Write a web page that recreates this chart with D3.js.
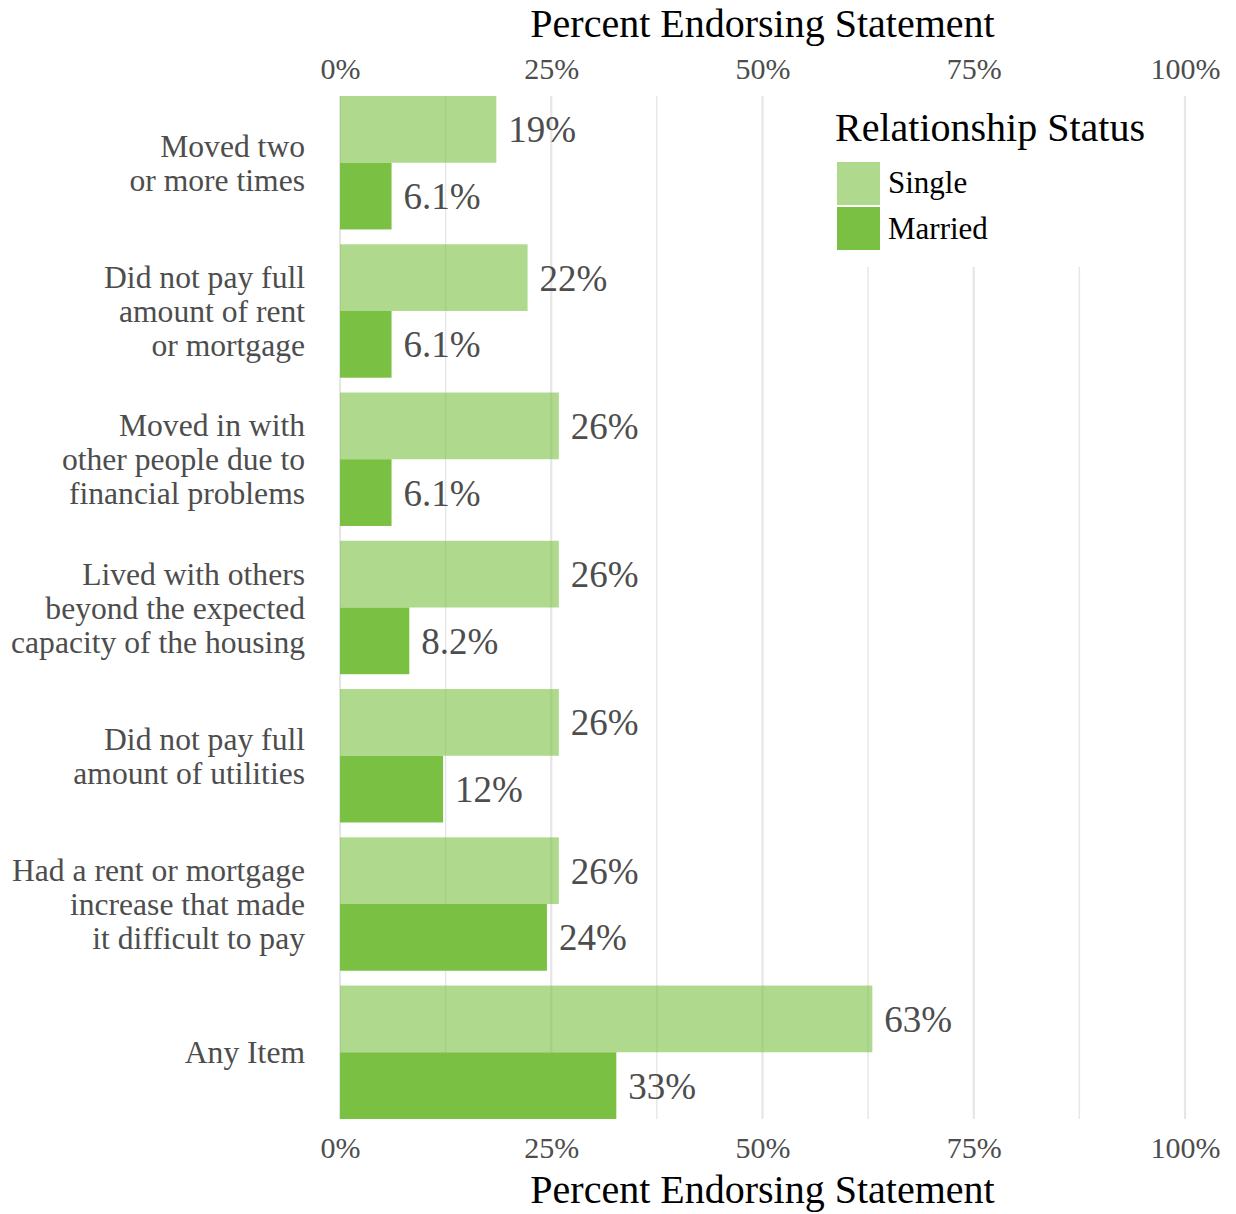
<!DOCTYPE html>
<html>
<head>
<meta charset="utf-8">
<script src="https://cdn.jsdelivr.net/npm/d3@7"></script>
<style>
  html, body { margin: 0; padding: 0; background: #fff; }
  svg { display: block; }
</style>
</head>
<body>
<svg id="chart" width="1236" height="1214"></svg>
<script>
// Housing-instability items, top to bottom
const categories = [
  "Moved two or more times",
  "Did not pay full amount of rent or mortgage",
  "Moved in with other people due to financial problems",
  "Lived with others beyond the expected capacity of the housing",
  "Did not pay full amount of utilities",
  "Had a rent or mortgage increase that made it difficult to pay",
  "Any Item"
];
// Wrapped label lines for each item
const categoryLines = [
  ["Moved two", "or more times"],
  ["Did not pay full", "amount of rent", "or mortgage"],
  ["Moved in with", "other people due to", "financial problems"],
  ["Lived with others", "beyond the expected", "capacity of the housing"],
  ["Did not pay full", "amount of utilities"],
  ["Had a rent or mortgage", "increase that made", "it difficult to pay"],
  ["Any Item"]
];
const groups = ["Single", "Married"];
// Percent endorsing each item
const singleValues  = [18.5, 22.2, 25.9, 25.9, 25.9, 25.9, 63.0];
const marriedValues = [6.1, 6.1, 6.1, 8.2, 12.2, 24.49, 32.7];
const tickValues = [0, 25, 50, 75, 100];
const minorTickValues = [12.5, 37.5, 62.5, 87.5];

const colors = { Single: "#7ac143", Married: "#7ac143" };
const opacities = { Single: 0.6, Married: 1 };

const FONT = "'Liberation Serif', 'Times New Roman', serif";
const svg = d3.select("#chart");

const x = d3.scaleLinear().domain([0, 100]).range([340, 1185]);
const y = d3.scaleBand().domain(categories).range([96, 1119]).paddingInner(0.1).paddingOuter(0);
const ySub = d3.scaleBand().domain(groups).range([0, y.bandwidth()]);

const panelTop = 96, panelBottom = 1119;

// Gridlines
svg.append("g").selectAll("line").data(minorTickValues).join("line")
  .attr("x1", d => x(d)).attr("x2", d => x(d))
  .attr("y1", panelTop).attr("y2", panelBottom)
  .attr("stroke", "#e6e6e6").attr("stroke-width", 1.4);
svg.append("g").selectAll("line").data(tickValues).join("line")
  .attr("x1", d => x(d)).attr("x2", d => x(d))
  .attr("y1", panelTop).attr("y2", panelBottom)
  .attr("stroke", "#e6e6e6").attr("stroke-width", 2.2);

// Legend background sits over the grid
svg.append("rect")
  .attr("x", 805).attr("y", panelTop).attr("width", 362).attr("height", 171)
  .attr("fill", "#fff");

// Bars
const rows = categories.map((c, i) => ({
  category: c,
  values: [
    { group: "Single", value: singleValues[i] },
    { group: "Married", value: marriedValues[i] }
  ]
}));

const fmt = v => d3.format(".2r")(v).replace(/\.0$/, "") + "%";

const rowG = svg.append("g").selectAll("g").data(rows).join("g")
  .attr("transform", d => `translate(0,${y(d.category)})`);

rowG.selectAll("rect").data(d => d.values).join("rect")
  .attr("x", x(0))
  .attr("y", d => ySub(d.group))
  .attr("width", d => x(d.value) - x(0))
  .attr("height", ySub.bandwidth())
  .attr("fill", d => colors[d.group])
  .attr("fill-opacity", d => opacities[d.group]);

rowG.selectAll("text").data(d => d.values).join("text")
  .attr("x", d => x(d.value) + 12)
  .attr("y", d => ySub(d.group) + ySub.bandwidth() / 2)
  .attr("dy", "0.35em")
  .attr("font-family", FONT).attr("font-size", 37)
  .attr("fill", "#4d4d4d")
  .text(d => fmt(d.value));

// Category labels
const catG = svg.append("g").selectAll("text").data(categories).join("text")
  .attr("text-anchor", "end")
  .attr("font-family", FONT).attr("font-size", 31.6)
  .attr("fill", "#4d4d4d")
  .attr("transform", d => `translate(305,${y(d) + y.bandwidth() / 2})`);
catG.each(function(d, i) {
  const lines = categoryLines[i];
  const lh = 34;
  const t = d3.select(this);
  lines.forEach((ln, k) => {
    t.append("tspan").attr("x", 0)
      .attr("y", (k - (lines.length - 1) / 2) * lh)
      .attr("dy", "0.35em")
      .text(ln);
  });
});

// Axes (top and bottom)
function styleAxis(g) {
  g.select(".domain").remove();
  g.selectAll("text").attr("font-family", FONT).attr("font-size", 30).attr("fill", "#4d4d4d");
}
svg.append("g").attr("transform", "translate(0,79)")
  .call(d3.axisTop(x).tickValues(tickValues).tickSize(0).tickPadding(0).tickFormat(d => d + "%"))
  .call(styleAxis)
  .selectAll("text").attr("dy", 0);
svg.append("g").attr("transform", "translate(0,1158)")
  .call(d3.axisBottom(x).tickValues(tickValues).tickSize(0).tickPadding(0).tickFormat(d => d + "%"))
  .call(styleAxis)
  .selectAll("text").attr("dy", 0);

// Axis titles
[37, 1203].forEach(yy => {
  svg.append("text")
    .attr("x", x(50)).attr("y", yy)
    .attr("text-anchor", "middle")
    .attr("font-family", FONT).attr("font-size", 40)
    .attr("fill", "#000")
    .text("Percent Endorsing Statement");
});

// Legend
const legend = svg.append("g");
legend.append("text")
  .attr("x", 835).attr("y", 141)
  .attr("font-family", FONT).attr("font-size", 40).attr("fill", "#000")
  .text("Relationship Status");
const keyY = { Single: 162, Married: 207 };
const labY = { Single: 193, Married: 239 };
groups.forEach(g => {
  legend.append("rect")
    .attr("x", 837).attr("y", keyY[g]).attr("width", 43).attr("height", 43)
    .attr("fill", colors[g]).attr("fill-opacity", opacities[g]);
  legend.append("text")
    .attr("x", 888).attr("y", labY[g])
    .attr("font-family", FONT).attr("font-size", 31).attr("fill", "#000")
    .text(g);
});
</script>
</body>
</html>
